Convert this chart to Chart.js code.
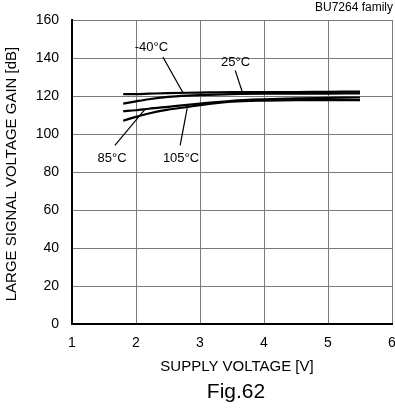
<!DOCTYPE html>
<html><head><meta charset="utf-8">
<script src="https://cdn.jsdelivr.net/npm/chart.js@4/dist/chart.umd.min.js"></script>
<style>html,body{margin:0;padding:0;background:#fff}#wrap{width:395px;height:408px}</style>
</head><body><div id="wrap"><canvas id="c" width="395" height="408"></canvas></div>
<script>
const supplyVoltage = [1.8, 2.0, 2.2, 2.5, 2.8, 3.0, 3.5, 4.0, 4.5, 5.0, 5.5];
const gainM40 = [121, 121, 121.2, 121.5, 121.7, 121.8, 122, 122, 122.1, 122.2, 122.3];
const gain25  = [116, 117.2, 118.3, 119.5, 120.2, 120.5, 121, 121.2, 121.2, 121.3, 121.4];
const gain85  = [112, 112.5, 113.3, 114.3, 115.3, 116, 117.5, 118.3, 118.8, 119, 119.2];
const gain105 = [107, 109, 110.8, 112.8, 114.2, 115.2, 117, 117.6, 117.8, 117.8, 117.8];
const seriesNames = ['-40\u00B0C', '25\u00B0C', '85\u00B0C', '105\u00B0C'];
const xTicks = [1, 2, 3, 4, 5, 6];
const yTicks = [0, 20, 40, 60, 80, 100, 120, 140, 160];
// annotation labels: [text, xV, ydB, pointerFromX, fromY, toX, toY]
const labels = [
  [seriesNames[0], 1.98, 145.6, 2.42, 140.5, 2.73, 122],
  [seriesNames[1], 3.33, 137.7, 3.55, 133.5, 3.67, 121.2],
  [seriesNames[2], 1.4, 87, 1.67, 94, 2.14, 113],
  [seriesNames[3], 2.42, 87, 2.69, 94, 2.8, 113.6]
];
const pts = a => a.map((v, i) => ({x: supplyVoltage[i], y: v}));
const FONT = '"Liberation Sans", Arial, sans-serif';

const annot = {
  id: 'annot',
  afterDatasetsDraw(chart) {
    const ctx = chart.ctx, xs = chart.scales.x, ys = chart.scales.y;
    ctx.save();
    ctx.fillStyle = '#000'; ctx.strokeStyle = '#000'; ctx.lineWidth = 1.2;
    ctx.font = '13px ' + FONT;
    ctx.textBaseline = 'middle'; ctx.textAlign = 'left';
    labels.forEach(l => {
      ctx.fillText(l[0], xs.getPixelForValue(l[1]), ys.getPixelForValue(l[2]));
      ctx.beginPath();
      ctx.moveTo(xs.getPixelForValue(l[3]), ys.getPixelForValue(l[4]));
      ctx.lineTo(xs.getPixelForValue(l[5]), ys.getPixelForValue(l[6]));
      ctx.stroke();
    });
    ctx.textAlign = 'right';
    ctx.font = '12px ' + FONT;
    ctx.fillText('BU7264 family', 393, 8);
    ctx.textAlign = 'center';
    ctx.font = '15px ' + FONT;
    ctx.fillText('SUPPLY VOLTAGE [V]', 237, 367);
    ctx.font = '21px ' + FONT;
    ctx.fillText('Fig.62', 236, 392);
    ctx.translate(12, 174);
    ctx.rotate(-Math.PI / 2);
    ctx.font = '15px ' + FONT;
    ctx.fillText('LARGE SIGNAL VOLTAGE GAIN [dB]', 0, 0);
    ctx.restore();
  }
};

const ds = [gainM40, gain25, gain85, gain105].map((g, i) => ({
  label: seriesNames[i], data: pts(g), borderColor: '#000', borderWidth: 2.2,
  pointRadius: 0, fill: false, cubicInterpolationMode: 'monotone'
}));

new Chart(document.getElementById('c'), {
  type: 'line',
  data: {datasets: ds},
  plugins: [annot],
  options: {
    responsive: false, animation: false,
    layout: {padding: {top: 20, right: 3, left: 0, bottom: 0}},
    plugins: {legend: {display: false}, tooltip: {enabled: false}},
    scales: {
      x: {
        type: 'linear', min: 1, max: 6,
        afterBuildTicks: s => { s.ticks = xTicks.map(v => ({value: v})); },
        afterFit: s => { s.height = 84; s.paddingRight = 0; s.paddingLeft = 0; },
        grid: {color: '#7a7a7a', lineWidth: 1, drawTicks: false},
        border: {color: '#000', width: 2},
        ticks: {color: '#000', padding: 11, font: {family: FONT, size: 14}}
      },
      y: {
        min: 0, max: 160,
        afterBuildTicks: s => { s.ticks = yTicks.map(v => ({value: v})); },
        afterFit: s => { s.width = 72; s.paddingTop = 0; s.paddingBottom = 0; },
        grid: {color: '#7a7a7a', lineWidth: 1, drawTicks: false},
        border: {color: '#000', width: 2},
        ticks: {color: '#000', padding: 13, font: {family: FONT, size: 14}}
      }
    }
  }
});
</script></body></html>
